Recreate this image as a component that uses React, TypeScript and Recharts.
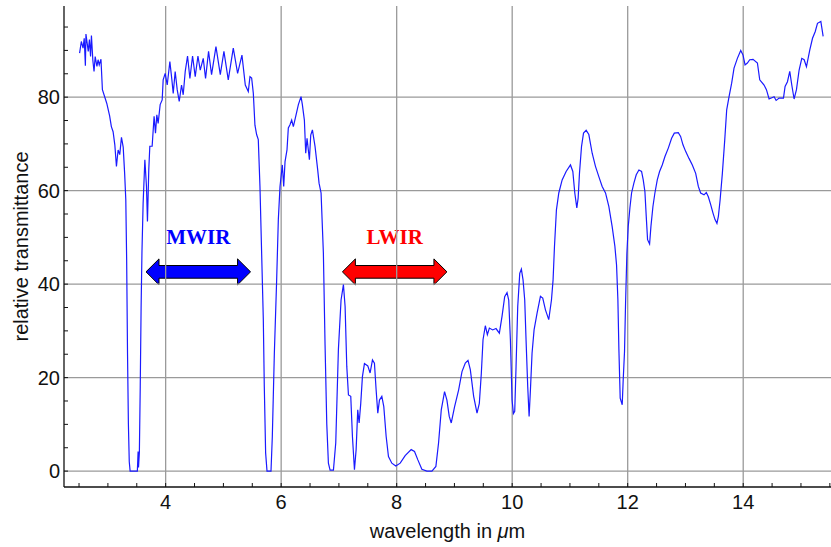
import { LineChart, Line, XAxis, YAxis, ReferenceLine, ReferenceArea } from "recharts";

type Pt = [number, number];

// wavelength (µm), relative transmittance (%)
const shortWave: Pt[] = [
  [2.51, 89.4], [2.54, 91.9], [2.57, 90.5], [2.59, 92.6], [2.61, 86.7], [2.62, 93.5], [2.66, 89.8],
  [2.68, 92.3], [2.7, 88.7], [2.715, 93.2], [2.74, 87.8], [2.76, 85.5], [2.78, 88.7], [2.81, 86.6],
  [2.83, 88], [2.85, 86.9], [2.88, 88.1], [2.905, 81.6], [2.98, 78.7], [3.03, 76], [3.06, 73.7],
  [3.09, 72.6], [3.12, 69.8], [3.148, 65.2], [3.177, 68.7], [3.205, 67.7], [3.235, 71.4],
  [3.265, 69.3], [3.29, 63.7],
];

const hydrocarbonDip: Pt[] = [
  [3.31, 58], [3.325, 45], [3.34, 25], [3.355, 10], [3.37, 2], [3.385, 0], [3.44, 0], [3.51, 0],
  [3.523, 4.2], [3.53, 0.8], [3.545, 4], [3.56, 18], [3.575, 35], [3.59, 47], [3.61, 57.3],
  [3.64, 66.6], [3.668, 60.9], [3.685, 53.4], [3.708, 64.5], [3.726, 69.5], [3.766, 69.5],
  [3.8, 75.9], [3.824, 72.3], [3.847, 76.2], [3.87, 74.4], [3.905, 78.4], [3.94, 79.4],
];

const mwirWindow: Pt[] = [
  [3.957, 83.7], [3.992, 85.1], [4.027, 82.6], [4.073, 87.6], [4.108, 83.7], [4.131, 80.8],
  [4.165, 85.5], [4.2, 81.6], [4.235, 79.1], [4.275, 82.6], [4.304, 80.5], [4.339, 85.5],
  [4.379, 88.8], [4.42, 84], [4.466, 88.8], [4.512, 84.4], [4.559, 88.8], [4.599, 85.8],
  [4.651, 88.3], [4.691, 84], [4.743, 89.8], [4.795, 84.8], [4.871, 90.8], [4.946, 84.8],
  [5.009, 89.8], [5.084, 83.7], [5.171, 90.5], [5.246, 85.1], [5.321, 89], [5.379, 82.6],
  [5.431, 81.2], [5.46, 84.4], [5.489, 84.1], [5.518, 80.8],
];

const waterBand: Pt[] = [
  [5.546, 74], [5.575, 72], [5.604, 70.9], [5.633, 60.9], [5.662, 46.6], [5.691, 32.4],
  [5.708, 18.1], [5.731, 3.9], [5.755, 0], [5.824, 0], [5.847, 7.4], [5.882, 25.2], [5.922, 40.9],
  [5.951, 53.8], [5.98, 60.9], [6.02, 65.5], [6.044, 60.9], [6.067, 66.2], [6.101, 68.7],
  [6.124, 73.4], [6.153, 74.1], [6.182, 75.1], [6.211, 73.7], [6.252, 75.9], [6.298, 78.4],
  [6.344, 80.1], [6.367, 78.4], [6.402, 75.1], [6.425, 68], [6.448, 71.2], [6.489, 66.6],
  [6.512, 71.9], [6.541, 73], [6.587, 69.4], [6.633, 64.4], [6.656, 61.6], [6.691, 59.5],
  [6.731, 46.6], [6.76, 27], [6.79, 10], [6.818, 1.7], [6.847, 0.2],
];

const lwirWindow: Pt[] = [
  [6.905, 0.2], [6.945, 6], [6.991, 26], [7.037, 36.6], [7.078, 39.9], [7.107, 35.2], [7.136, 22.4],
  [7.165, 16.3], [7.205, 16], [7.234, 7.4], [7.269, 0.3], [7.298, 4.6], [7.326, 13.1], [7.35, 10.3],
  [7.378, 14.5], [7.407, 20.2], [7.442, 23], [7.5, 22.5], [7.54, 21], [7.581, 23.8], [7.615, 23.1],
  [7.644, 17.4], [7.673, 12.4], [7.702, 15.2], [7.743, 16], [7.777, 13.8], [7.818, 7.4],
  [7.858, 3.1], [7.916, 1.7], [7.985, 1.1], [8.061, 1.7], [8.147, 3.3], [8.251, 4.6], [8.309, 4.2],
  [8.367, 2.4], [8.436, 0.4], [8.523, 0], [8.61, 0], [8.679, 1], [8.725, 6], [8.772, 13.1],
  [8.829, 17], [8.87, 15.2], [8.91, 11.7], [8.945, 10.3], [9.003, 13.8],
];

const ozoneRegion: Pt[] = [
  [9.073, 17.4], [9.131, 21.3], [9.188, 23.1], [9.235, 23.7], [9.275, 21.7], [9.333, 16],
  [9.391, 12.4], [9.431, 14.5], [9.466, 21], [9.495, 28.1], [9.535, 31.1], [9.57, 29.2],
  [9.605, 30.6], [9.662, 30.2], [9.72, 30.5], [9.778, 29.5], [9.824, 33.1], [9.87, 37.3],
  [9.911, 38.2], [9.94, 36.6], [9.969, 28.1], [9.998, 15.2], [10.021, 12.3], [10.044, 12.8],
  [10.067, 22.4], [10.096, 35.2], [10.131, 42.3], [10.159, 43.2], [10.188, 40.9], [10.217, 36.6],
  [10.24, 28.1], [10.269, 18.1], [10.293, 11.7], [10.316, 17.4], [10.344, 25.2], [10.379, 30.2],
  [10.431, 33.8], [10.489, 37.4], [10.529, 37], [10.576, 34.5], [10.633, 32.4], [10.68, 36.6],
  [10.708, 40.9], [10.732, 48], [10.766, 55.9], [10.807, 59.5], [10.865, 62.3], [10.934, 64.1],
  [11.009, 65.5], [11.05, 64.1], [11.084, 59.5], [11.119, 56.3], [11.142, 58.4], [11.165, 63.7],
  [11.2, 69.4], [11.235, 72.3], [11.281, 72.9],
];

const longWave: Pt[] = [
  [11.327, 72], [11.385, 68], [11.442, 65.2], [11.5, 63], [11.558, 60.9], [11.616, 59.5],
  [11.674, 56.6], [11.731, 52.3], [11.778, 48.1], [11.807, 44.1], [11.83, 36.7], [11.847, 26.3],
  [11.87, 15.6], [11.905, 14.2], [11.922, 19.5], [11.945, 25.6], [11.963, 35.9], [11.986, 46.6],
  [12.009, 52.3], [12.038, 56.3], [12.067, 59.5], [12.107, 61.6], [12.148, 63.4], [12.194, 64.4],
  [12.24, 64.1], [12.269, 62.3], [12.298, 59.8], [12.321, 54.5], [12.344, 49.5], [12.379, 48.6],
  [12.402, 52.3], [12.437, 56.6], [12.471, 59.5], [12.512, 62.3], [12.552, 64.1], [12.598, 65.5],
  [12.645, 67.3], [12.703, 69.1], [12.76, 71.2], [12.807, 72.3], [12.876, 72.4], [12.916, 71.6],
  [12.957, 69.8], [13.003, 68.4], [13.061, 66.9], [13.119, 65.5], [13.177, 63.7], [13.223, 60.9],
  [13.263, 59.5], [13.321, 59.1], [13.361, 59.6], [13.396, 58.7], [13.437, 57], [13.477, 55.2],
  [13.512, 53.8], [13.545, 53], [13.57, 54.5], [13.6, 58],
];

const farWave: Pt[] = [
  [13.639, 63.7], [13.68, 70.8], [13.714, 77.3], [13.755, 80.1], [13.8, 83], [13.841, 86.2],
  [13.899, 88.3], [13.957, 90], [13.997, 89], [14.032, 86.9], [14.072, 87.3], [14.113, 88],
  [14.17, 88.1], [14.246, 87.3], [14.286, 83.7], [14.361, 82.6], [14.402, 81.6], [14.448, 79.6],
  [14.535, 80.1], [14.57, 79.3], [14.622, 79.8], [14.697, 79.8], [14.725, 82.3], [14.766, 83.3],
  [14.806, 85.5], [14.841, 82.6], [14.881, 79.6], [14.922, 81.6], [14.968, 85.8], [15.014, 88.3],
  [15.055, 88], [15.095, 86.5], [15.153, 90.1], [15.2, 92.6], [15.246, 94], [15.286, 95.8],
  [15.344, 96.2], [15.384, 93],
];

const spectrum = [
  ...shortWave, ...hydrocarbonDip, ...mwirWindow, ...waterBand,
  ...lwirWindow, ...ozoneRegion, ...longWave, ...farWave,
].map(([wavelength, transmittance]) => ({ wavelength, transmittance }));

const xTicks = [2.5, 3, 3.5, 4, 4.5, 5, 5.5, 6, 6.5, 7, 7.5, 8, 8.5, 9, 9.5, 10, 10.5, 11, 11.5, 12, 12.5, 13, 13.5, 14, 14.5, 15, 15.5];
const yTicks = [0, 5, 10, 15, 20, 25, 30, 35, 40, 45, 50, 55, 60, 65, 70, 75, 80, 85, 90, 95];
const xLabelled = [4, 6, 8, 10, 12, 14];
const yLabelled = [0, 20, 40, 60, 80];

// the two atmospheric windows marked with double arrows
const bands = [
  { name: "MWIR", color: "#0000ff", from: 3.66, to: 5.47 },
  { name: "LWIR", color: "#ff0000", from: 7.06, to: 8.87 },
];
const arrowLow = 39.85;
const arrowHigh = 45.4;

const FONT = "'Liberation Sans', Arial, sans-serif";

function XTick(p: any) {
  if (!xLabelled.includes(p.payload.value)) return <g />;
  return (
    <text x={p.x} y={p.y + 22} textAnchor="middle" fontSize={20} fontFamily={FONT} fill="#111">
      {p.payload.value}
    </text>
  );
}

function YTick(p: any) {
  if (!yLabelled.includes(p.payload.value)) return <g />;
  return (
    <text x={p.x} y={p.y} dy="0.36em" textAnchor="end" fontSize={20} fontFamily={FONT} fill="#111">
      {p.payload.value}
    </text>
  );
}

function XTitle(p: any) {
  const vb = p.viewBox;
  return (
    <text x={vb.x + vb.width / 2} y={vb.y + 51} textAnchor="middle" fontSize={20} fontFamily={FONT} fill="#111">
      wavelength in <tspan fontStyle="italic">μ</tspan>m
    </text>
  );
}

function YTitle(p: any) {
  const vb = p.viewBox;
  const cx = 28;
  const cy = vb.y + vb.height / 2;
  return (
    <text x={cx} y={cy} transform={`rotate(-90 ${cx} ${cy})`} textAnchor="middle" fontSize={20} fontFamily={FONT} fill="#111">
      relative transmittance
    </text>
  );
}

function DoubleArrow(p: any) {
  const { x, y, width, height, color, name } = p;
  const head = 13;
  const half = height * 0.244;
  const cy = y + height / 2;
  const pts = [
    [x, cy], [x + head, y], [x + head, cy - half], [x + width - head, cy - half],
    [x + width - head, y], [x + width, cy], [x + width - head, y + height],
    [x + width - head, cy + half], [x + head, cy + half], [x + head, y + height],
  ].map((q) => q.join(",")).join(" ");
  return (
    <g>
      <polygon points={pts} fill={color} stroke="#000" strokeWidth={1} />
      <text x={x + width / 2} y={y - 15} textAnchor="middle" fontSize={21} fontWeight="bold"
        fontFamily="'Liberation Serif', 'Times New Roman', serif" fill={color}>
        {name}
      </text>
    </g>
  );
}

export default function App() {
  return (
    <div style={{ position: "absolute", left: 0, top: 0, background: "#fff" }}>
      <LineChart width={831} height={547} data={spectrum} margin={{ top: 6, right: 0, bottom: 0, left: 0 }}>
        {xLabelled.map((v) => (
          <ReferenceLine key={`gx${v}`} x={v} stroke="#9a9a9a" strokeWidth={1.3} />
        ))}
        {yLabelled.map((v) => (
          <ReferenceLine key={`gy${v}`} y={v} stroke="#9a9a9a" strokeWidth={1.3} />
        ))}
        <XAxis
          dataKey="wavelength"
          type="number"
          domain={[2.24, 15.52]}
          allowDataOverflow
          ticks={xTicks}
          interval={0}
          height={60}
          tickSize={-4}
          tickMargin={4}
          tick={XTick}
          axisLine={{ stroke: "#111", strokeWidth: 1.3 }}
          tickLine={{ stroke: "#111" }}
          label={<XTitle />}
        />
        <XAxis
          xAxisId="top"
          orientation="top"
          dataKey="wavelength"
          type="number"
          domain={[2.24, 15.52]}
          allowDataOverflow
          ticks={xTicks}
          interval={0}
          height={0}
          tickSize={-4}
          tick={false}
          axisLine={{ stroke: "#111", strokeWidth: 1.3 }}
          tickLine={{ stroke: "#111" }}
        />
        <YAxis
          type="number"
          domain={[-3.4, 99.5]}
          allowDataOverflow
          ticks={yTicks}
          interval={0}
          width={64}
          tickSize={-4}
          tickMargin={8}
          tick={YTick}
          axisLine={{ stroke: "#111", strokeWidth: 1.3 }}
          tickLine={{ stroke: "#111" }}
          label={<YTitle />}
        />
        <Line
          type="linear"
          dataKey="transmittance"
          stroke="#1a1aff"
          strokeWidth={1.2}
          dot={false}
          activeDot={false}
          isAnimationActive={false}
        />
        {bands.map((b) => (
          <ReferenceArea
            key={b.name}
            x1={b.from}
            x2={b.to}
            y1={arrowLow}
            y2={arrowHigh}
            shape={(p: any) => <DoubleArrow {...p} color={b.color} name={b.name} />}
          />
        ))}
      </LineChart>
    </div>
  );
}
